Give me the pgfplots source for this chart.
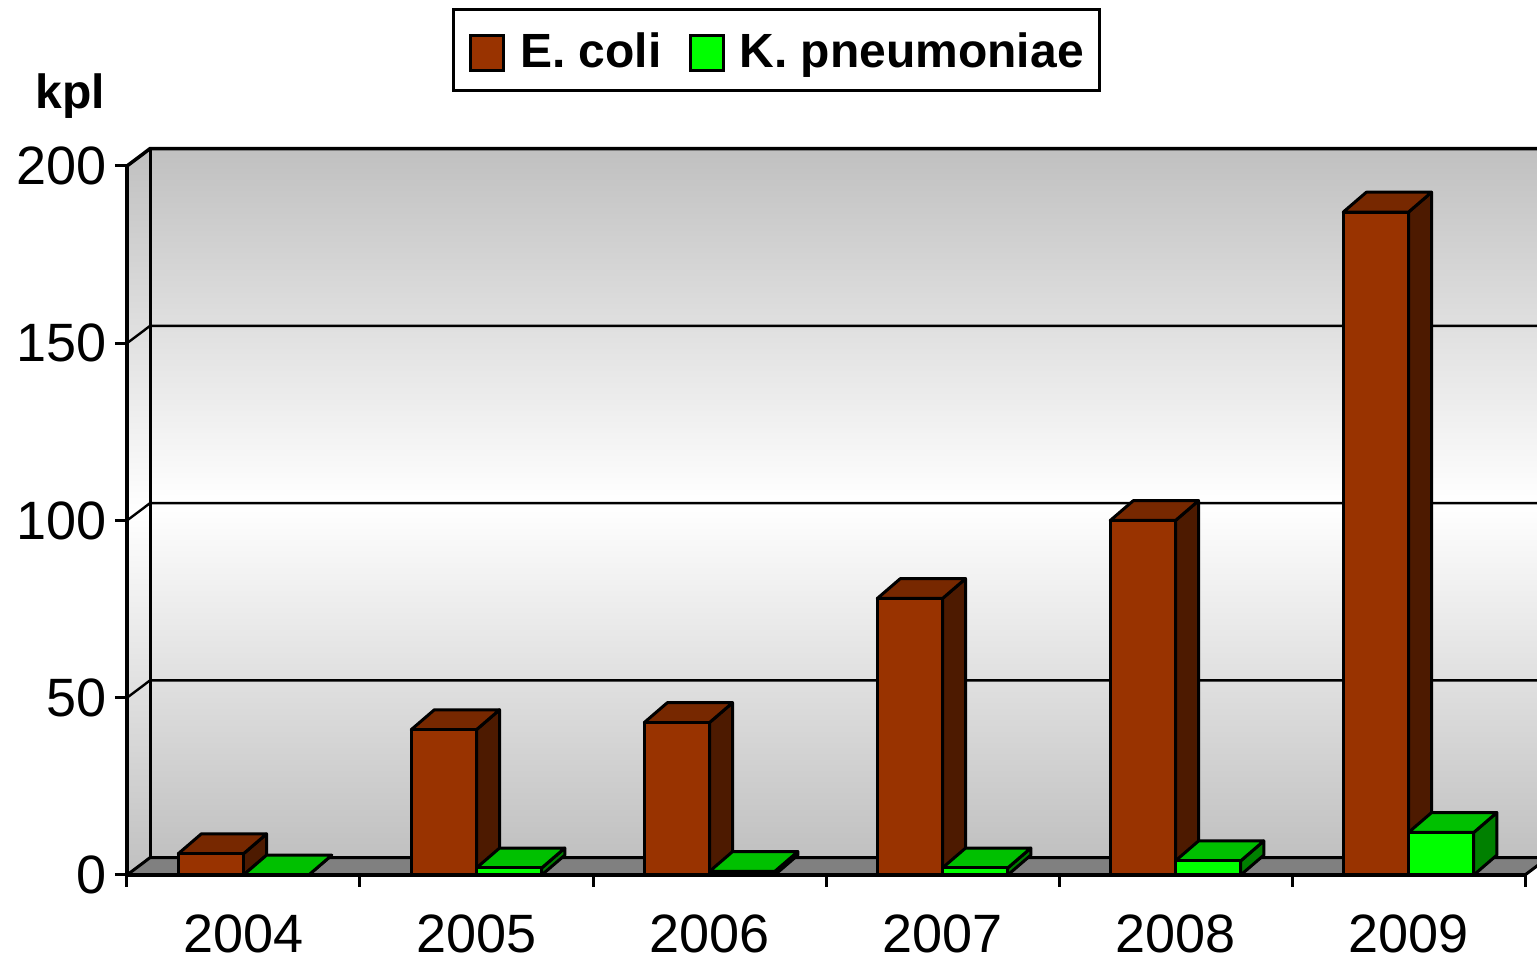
\documentclass[border=0pt]{standalone}
\usepackage{fontspec}
\setmainfont{Liberation Sans}
\usepackage{pgfplots}
\usepackage{pgfplotstable}
\pgfplotsset{compat=1.18}
\definecolor{ecF}{HTML}{993300}
\definecolor{ecT}{HTML}{772800}
\definecolor{ecS}{HTML}{4D1A00}
\definecolor{kpF}{HTML}{00FF00}
\definecolor{kpT}{HTML}{00C000}
\definecolor{kpS}{HTML}{008000}
\definecolor{wallgray}{HTML}{C0C0C0}
\definecolor{floorgray}{HTML}{808080}

\pgfplotstableread{
idx ecoli kpn
0 6 0
1 41 2
2 43 1
3 78 2
4 100 4
5 187 12
}\datatable

\def\DX{0.099}
\def\DYB{5.6}
\def\BW{0.28}

\newcommand\drawbox[4]{%
  \pgfmathsetmacro\xa{#1}%
  \pgfmathsetmacro\xb{#2}%
  \pgfmathsetmacro\xc{#1+\DX}%
  \pgfmathsetmacro\xd{#2+\DX}%
  \pgfmathsetmacro\ha{#3}%
  \pgfmathsetmacro\hb{#3+\DYB}%
  \edef\temp{%
    \noexpand\addplot[forget plot, draw=black, line width=1.5pt, line join=round, fill=#4S] coordinates {(\xb,0) (\xd,\DYB) (\xd,\hb) (\xb,\ha)} -- cycle;
    \noexpand\addplot[forget plot, draw=black, line width=1.5pt, line join=round, fill=#4T] coordinates {(\xa,\ha) (\xc,\hb) (\xd,\hb) (\xb,\ha)} -- cycle;
    \noexpand\addplot[forget plot, draw=black, line width=1.5pt, line join=round, fill=#4F] coordinates {(\xa,0) (\xb,0) (\xb,\ha) (\xa,\ha)} -- cycle;
  }\temp
}

\begin{document}
\begin{tikzpicture}
\useasboundingbox (-63.5pt,-41pt) rectangle (705pt,437.5pt);
\clip (-63.5pt,-41pt) rectangle (705pt,437.5pt);
\begin{axis}[
  at={(0,0)}, anchor=south west, scale only axis,
  width=699pt, height=354.5pt,
  xmin=-0.5, xmax=5.5, ymin=0, ymax=200,
  clip=false,
  axis x line*=bottom, axis y line*=left,
  axis line style={line width=1.75pt, -},
  ytick={0,50,...,200},
  xtick={-0.5,0.5,1.5,2.5,3.5,4.5,5.5}, xticklabels={,,,,,,},
  extra x ticks={0,1,2,3,4,5},
  extra x tick labels={2004,2005,2006,2007,2008,2009},
  extra x tick style={major tick length=0pt, xticklabel style={anchor=north, inner sep=0pt, yshift=-19.8pt}},
  tick align=outside, major tick length=6pt,
  tick style={line width=1.5pt, black},
  ticklabel style={font=\fontsize{27}{30}\selectfont},
  yticklabel style={inner xsep=4pt},
  /pgf/number format/assume math mode=true,
  axis on top,
  ylabel={kpl},
  every axis y label/.style={at={(rel axis cs:-0.0658,1.0804)}, anchor=base west, inner sep=0pt, font=\fontsize{24}{28}\selectfont\bfseries},
  legend columns=2,
  legend style={at={(0.4646,1.2229)}, anchor=north, draw=black, line width=1.5pt,
    font=\fontsize{24}{28}\selectfont\bfseries,
    inner xsep=8pt, inner ysep=2pt,
    nodes={inner sep=0pt, text height=27pt, text depth=9.5pt},
    /tikz/every odd column/.append style={column sep=7.5pt},
    /tikz/every even column/.append style={column sep=13.5pt}},
  legend image code/.code={\draw[#1, line width=1.5pt] (0pt,-10.5pt) rectangle (16.5pt,7pt);},
]
% back wall
\addplot[forget plot, draw=none, top color=wallgray, bottom color=wallgray, middle color=white]
  coordinates {(-0.401,4.9) (5.599,4.9) (5.599,204.9) (-0.401,204.9)} -- cycle;
% left wall
\addplot[forget plot, draw=none, top color=wallgray, bottom color=wallgray, middle color=white]
  coordinates {(-0.5,0) (-0.401,4.9) (-0.401,204.9) (-0.5,200)} -- cycle;
% floor
\addplot[forget plot, draw=none, fill=floorgray]
  coordinates {(-0.5,0) (5.5,0) (5.599,4.9) (-0.401,4.9)} -- cycle;
% grid lines
\addplot[forget plot, black, line width=1.5pt] coordinates {(-0.5,0) (-0.401,4.9) (5.599,4.9)};
\addplot[forget plot, black, line width=1.2pt] coordinates {(-0.5,50) (-0.401,54.9) (5.599,54.9)};
\addplot[forget plot, black, line width=1.2pt] coordinates {(-0.5,100) (-0.401,104.9) (5.599,104.9)};
\addplot[forget plot, black, line width=1.2pt] coordinates {(-0.5,150) (-0.401,154.9) (5.599,154.9)};
\addplot[forget plot, black, line width=1.75pt] coordinates {(-0.5,200) (-0.401,204.9) (5.599,204.9)};
\addplot[forget plot, black, line width=1.5pt] coordinates {(-0.401,4.9) (-0.401,204.9)};
\addplot[forget plot, black, line width=1.5pt] coordinates {(5.5,0) (5.599,4.9)};
% bars
\pgfplotsinvokeforeach{0,...,5}{
  \pgfplotstablegetelem{#1}{ecoli}\of\datatable
  \let\hE\pgfplotsretval
  \pgfplotstablegetelem{#1}{kpn}\of\datatable
  \let\hK\pgfplotsretval
  \drawbox{#1-\BW}{#1}{\hE}{ec}
  \drawbox{#1}{#1+\BW}{\hK}{kp}
}
\addlegendimage{fill=ecF, draw=black}
\addlegendentry{E. coli}
\addlegendimage{fill=kpF, draw=black}
\addlegendentry{K. pneumoniae}
\end{axis}
\end{tikzpicture}
\end{document}
